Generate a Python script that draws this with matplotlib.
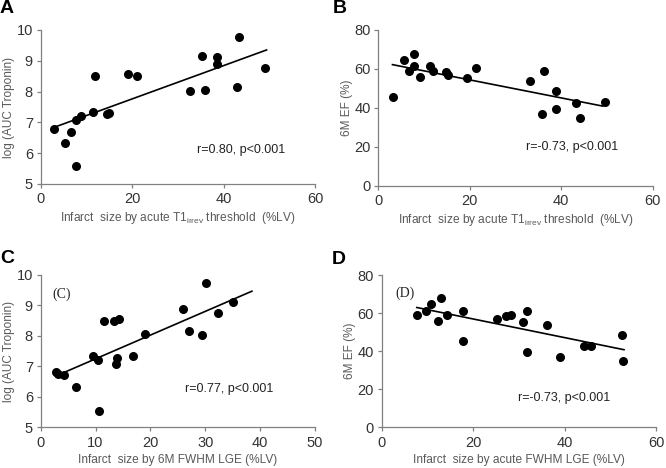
import numpy as np
import matplotlib
matplotlib.use('Agg')
import matplotlib.pyplot as plt

plt.rcParams['font.family'] = ['Liberation Sans', 'DejaVu Sans']
plt.rcParams['mathtext.fontset'] = 'custom'
plt.rcParams['mathtext.rm'] = 'Liberation Sans'
plt.rcParams['mathtext.default'] = 'regular'

# A: acute T1irrev size vs log(AUC troponin)
xa = [2.9, 5.4, 6.6, 7.7, 7.7, 8.9, 11.4, 11.8, 14.6, 15.0, 19.2, 21.0, 32.7, 35.3, 35.9, 38.5, 38.5, 42.9, 43.4, 49.1]
ya = [6.78, 6.33, 6.67, 5.57, 7.08, 7.21, 7.33, 8.49, 7.26, 7.30, 8.57, 8.49, 8.03, 9.14, 8.06, 9.11, 8.88, 8.14, 9.76, 8.75]
fit_xa = [2.8, 49.4]
fit_ya = [6.83, 9.35]

# B: acute T1irrev size vs 6M EF
xb = [3.3, 5.6, 6.8, 7.9, 7.9, 9.1, 11.4, 12.0, 14.9, 15.2, 19.4, 21.3, 33.1, 36.3, 35.9, 38.9, 38.9, 43.3, 44.0, 49.5]
yb = [45.7, 64.6, 58.9, 67.7, 61.5, 55.7, 61.5, 59.1, 58.6, 56.7, 55.3, 60.5, 54.0, 59.1, 36.8, 48.8, 39.6, 42.7, 34.8, 43.0]
fit_xb = [3.1, 49.1]
fit_yb = [62.2, 40.9]

# C: 6M FWHM LGE vs log(AUC troponin)
xc = [2.8, 3.2, 4.3, 6.4, 9.5, 10.4, 10.6, 11.5, 13.4, 14.2, 13.9, 13.7, 16.9, 19.1, 26.0, 27.1, 29.4, 30.1, 32.4, 35.1]
yc = [6.80, 6.76, 6.70, 6.33, 7.34, 7.21, 5.55, 8.49, 8.49, 8.55, 7.26, 7.06, 7.32, 8.06, 8.88, 8.14, 8.03, 9.74, 8.75, 9.11]
fit_xc = [3.8, 38.5]
fit_yc = [6.76, 9.46]

# D: acute FWHM LGE vs 6M EF
xd = [7.7, 9.6, 10.8, 12.4, 13.0, 14.2, 17.7, 17.7, 25.3, 27.3, 28.2, 30.9, 31.8, 31.8, 36.1, 39.0, 44.2, 45.8, 52.6, 52.8]
yd = [59.2, 61.3, 65.1, 56.1, 67.9, 58.8, 61.3, 45.6, 56.7, 58.5, 59.2, 55.4, 60.9, 39.7, 54.0, 37.0, 42.9, 42.9, 48.4, 34.9]
fit_xd = [7.7, 53.0]
fit_yd = [63.0, 40.8]

t1_label = 'Infarct  size by acute T1$_{irrev}$ threshold  (%LV)'

panels = [
    ('A', (0.0, 0.999), [0.061, 0.607, 0.412, 0.329], xa, ya, fit_xa, fit_ya, (0, 60, 20), (5, 10, 1),
     t1_label, 'log (AUC Troponin)', 'r=0.80, p<0.001', (0.57, 0.22), None, None),
    ('B', (0.5, 0.999), [0.568, 0.603, 0.412, 0.333], xb, yb, fit_xb, fit_yb, (0, 60, 20), (0, 80, 20),
     t1_label, '6M EF (%)', 'r=-0.73, p<0.001', (0.537, 0.25), None, None),
    ('C', (0.0, 0.466), [0.061, 0.087, 0.412, 0.326], xc, yc, fit_xc, fit_yc, (0, 50, 10), (5, 10, 1),
     'Infarct  size by 6M FWHM LGE (%LV)', 'log (AUC Troponin)', 'r=0.77, p<0.001', (0.526, 0.248),
     '(C)', (0.044, 0.875)),
    ('D', (0.498, 0.464), [0.573, 0.087, 0.412, 0.325], xd, yd, fit_xd, fit_yd, (0, 60, 20), (0, 80, 20),
     'Infarct  size by acute FWHM LGE (%LV)', '6M EF (%)', 'r=-0.73, p<0.001', (0.497, 0.195),
     '(D)', (0.051, 0.883)),
]

fig = plt.figure(figsize=(6.66, 4.68), dpi=100)
grey = '#595959'

for tag, tpos, rect, x, y, fx, fy, xt, yt, xl, yl, rtxt, rpos, inner, ipos in panels:
    ax = fig.add_axes(rect)
    ax.scatter(x, y, s=30, color='black', zorder=3)
    ax.plot(fx, fy, color='black', lw=1.2)
    ax.set_xlim(xt[0], xt[1])
    ax.set_ylim(yt[0], yt[1])
    ax.set_xticks(np.arange(xt[0], xt[1] + 0.1, xt[2]))
    ax.set_yticks(np.arange(yt[0], yt[1] + 0.1, yt[2]))
    for s in ['top', 'right']:
        ax.spines[s].set_visible(False)
    for s in ['left', 'bottom']:
        ax.spines[s].set_color('#808080')
        ax.spines[s].set_linewidth(0.9)
    ax.tick_params(direction='out', length=3, width=0.9, color='#808080',
                   labelsize=10.5, labelcolor='#333333', pad=2.5)
    ax.tick_params(axis='x', pad=3)
    ax.set_xlabel(xl, fontsize=8.6, color=grey, labelpad=3)
    ax.set_ylabel(yl, fontsize=8.5, color=grey, labelpad=1)
    ax.text(rpos[0], rpos[1], rtxt, transform=ax.transAxes, fontsize=9,
            color='#222222', va='center')
    if inner:
        ax.text(ipos[0], ipos[1], inner, transform=ax.transAxes, fontsize=10,
                family='Liberation Serif', color='#222222', va='center')
    fig.text(tpos[0], tpos[1], tag, fontsize=14, fontweight='bold',
             va='top', ha='left')

fig.savefig('out.png', dpi=100)
